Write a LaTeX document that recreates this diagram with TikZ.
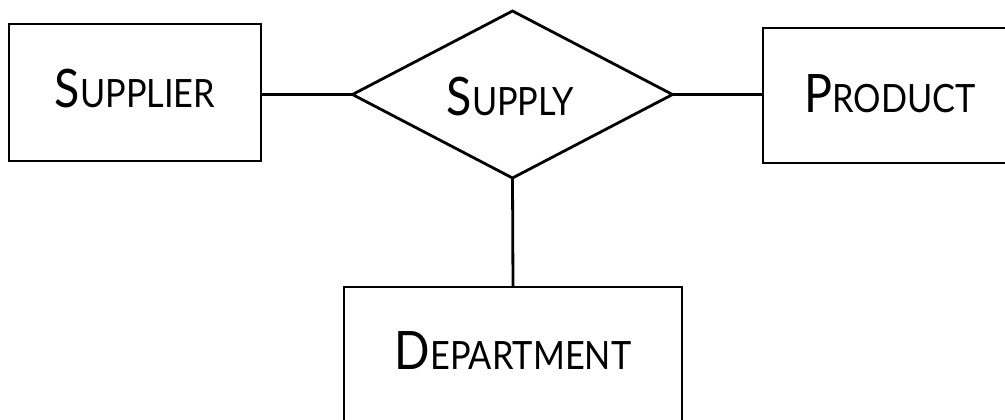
\documentclass[tikz,border=0pt]{standalone}
\usepackage{fontspec}
\setmainfont[FakeStretch=0.88]{Lato}
\usetikzlibrary{shapes.geometric}
% fake small caps: large initial, smaller remaining capitals
\newcommand\smcap[2]{{\fontsize{53}{53}\selectfont #1}{\fontsize{39}{39}\selectfont #2}}
\tikzset{
  entity/.style={draw, line width=2.8pt, rectangle, inner sep=0pt, outer sep=0pt},
  relation/.style={draw, line width=2.8pt, diamond, inner sep=0pt, outer sep=0pt,
    minimum width=320pt, minimum height=167pt},
  label/.style={anchor=base, inner sep=0pt},
  link/.style={line width=2.8pt}
}
\begin{document}
\begin{tikzpicture}[x=1pt, y=-1pt]
  \useasboundingbox (0,0) rectangle (1005,420);
  \clip (0,0) rectangle (1005,420);
  \node[entity, minimum width=252pt, minimum height=137pt] (sup) at (135,92.5) {};
  \node[entity, minimum width=254pt, minimum height=135pt] (prod) at (890,95.5) {};
  \node[entity, minimum width=338pt, minimum height=137pt] (dep) at (513,355.5) {};
  \node[relation] (rel) at (512.5,94.5) {};
  \node[label] (supt) at (135,108) {\smcap{S}{UPPLIER}};
  \node[label] (prodt) at (890,113) {\smcap{P}{RODUCT}};
  \node[label] (dept) at (513,369) {\smcap{D}{EPARTMENT}};
  \node[label] (relt) at (510.5,115) {\smcap{S}{UPPLY}};
  \draw[link] (rel.west) -- (rel.west -| sup.east);
  \draw[link] (rel.east) -- (rel.east -| prod.west);
  \draw[link] (rel.south) -- (dep.north);
\end{tikzpicture}
\end{document}
